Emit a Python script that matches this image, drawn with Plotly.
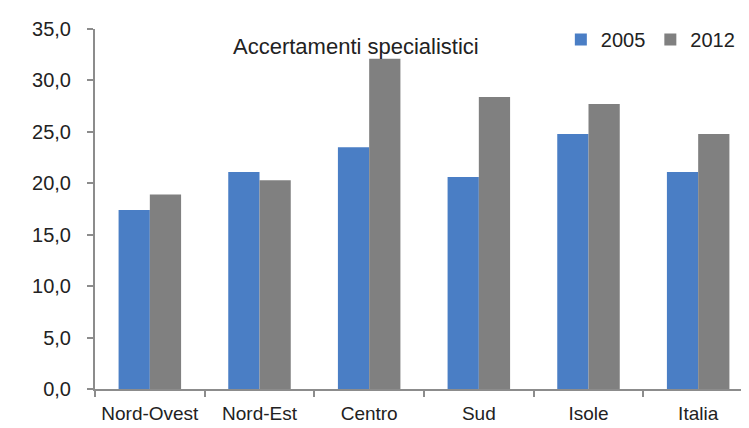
import plotly.graph_objects as go

categories = ["Nord-Ovest", "Nord-Est", "Centro", "Sud", "Isole", "Italia"]
values_2005 = [17.4, 21.1, 23.5, 20.6, 24.8, 21.1]
values_2012 = [18.9, 20.3, 32.1, 28.4, 27.7, 24.8]
ytick_vals = [0, 5, 10, 15, 20, 25, 30, 35]
ytick_text = ["0,0", "5,0", "10,0", "15,0", "20,0", "25,0", "30,0", "35,0"]

FONT = "Liberation Sans, Arial, sans-serif"

fig = go.Figure()
fig.add_trace(go.Bar(name="2005", x=categories, y=values_2005, marker_color="#4A7EC5",
                     marker_line_width=0))
fig.add_trace(go.Bar(name="2012", x=categories, y=values_2012, marker_color="#808080",
                     marker_line_width=0))

fig.update_layout(
    width=749, height=428,
    margin=dict(l=87, r=4, t=21, b=47, autoexpand=False),
    paper_bgcolor="white", plot_bgcolor="white",
    barmode="group", bargap=0.43, bargroupgap=0,
    font=dict(family=FONT, size=20, color="#222222"),
    showlegend=True,
    legend=dict(orientation="h", x=0.98, xanchor="right", y=1.025, yanchor="top",
                font=dict(size=20, family=FONT, color="#222222"), itemwidth=30,
                bgcolor="rgba(0,0,0,0)", tracegroupgap=0),
    xaxis=dict(showline=True, linecolor="#8C8C8C", linewidth=2, ticks="outside",
               tickson="boundaries", ticklen=6, tickcolor="#8C8C8C", tickwidth=2,
               showgrid=False, tickfont=dict(size=19, family=FONT), tickangle=0,
               ticklabelstandoff=6),
    yaxis=dict(range=[0, 35], tickvals=ytick_vals, ticktext=ytick_text, showline=True,
               linecolor="#8C8C8C", linewidth=2, ticks="outside", ticklen=6,
               tickcolor="#8C8C8C", tickwidth=2, showgrid=False, zeroline=False,
               tickfont=dict(size=20, family=FONT), ticklabelstandoff=12),
    annotations=[dict(text="Accertamenti specialistici", x=0.397, xref="paper",
                      y=35, yref="y", yanchor="middle", yshift=-17, showarrow=False,
                      font=dict(size=22, family=FONT, color="#222222"))],
)

fig.write_html("out.html")
